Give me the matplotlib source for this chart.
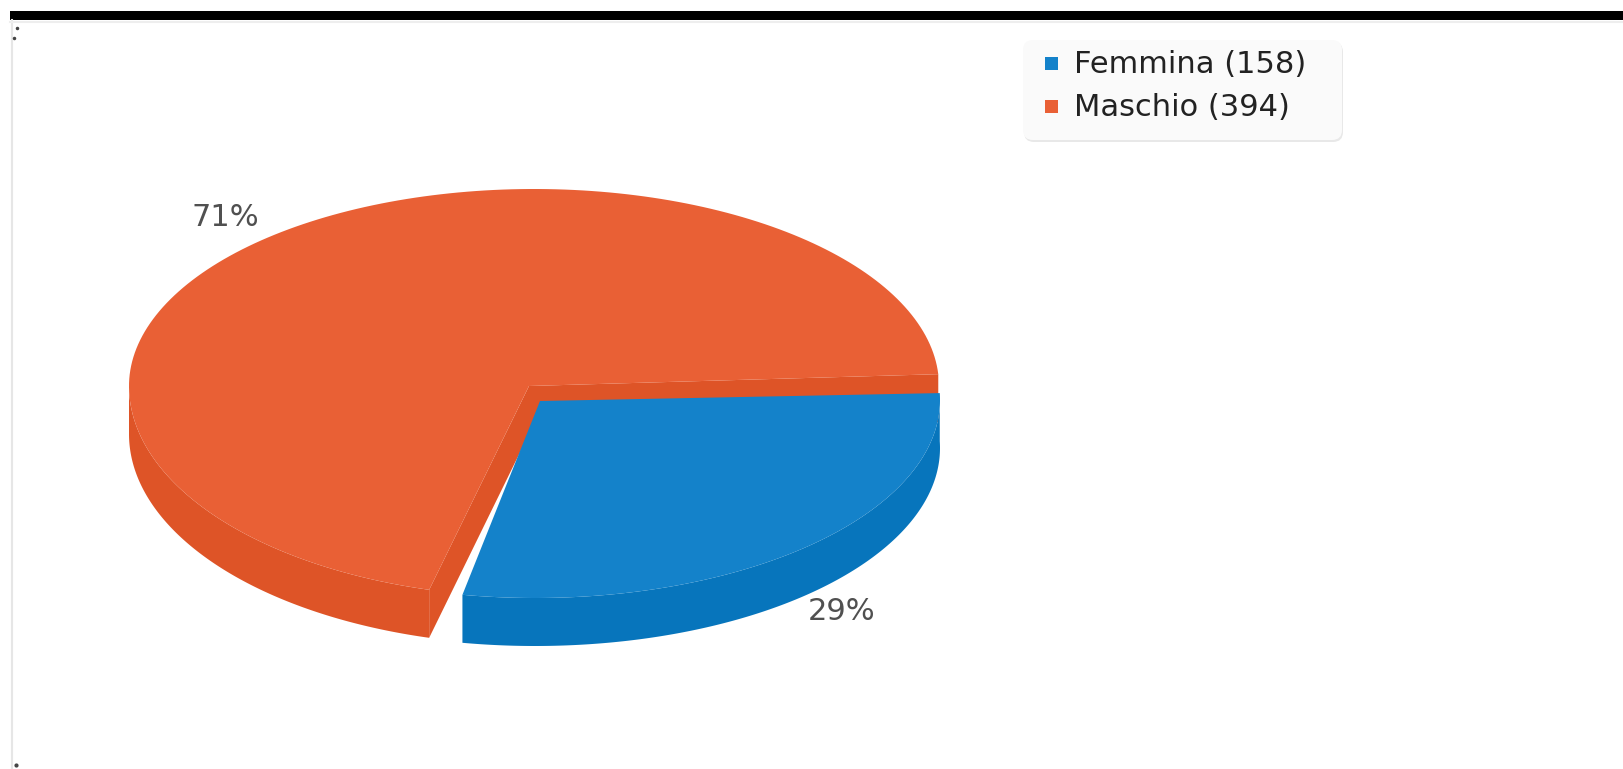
import matplotlib
matplotlib.use('Agg')
import matplotlib.pyplot as plt
import numpy as np
from matplotlib.patches import FancyBboxPatch, Rectangle

plt.rcParams['font.family'] = ['DejaVu Sans']

categories = ['Femmina', 'Maschio']
values = [158, 394]
top_colors = ['#1482CA', '#E96035']
side_colors = ['#0775BC', '#DE5427']

total = sum(values)
spans = [360.0 * v / total for v in values]

fig = plt.figure(figsize=(16.23, 7.69), dpi=100)
ax = fig.add_axes([0, 0, 1, 1])
ax.set_xlim(0, 1623)
ax.set_ylim(769, 0)  # pixels, y going down
ax.axis('off')


def arc(cx, cy, rx, ry_top, ry_bot, t0, t1, dy=0):
    t = np.radians(np.linspace(t0, t1, 200))
    s = np.sin(t)
    y = cy + dy + np.where(s < 0, ry_top, ry_bot) * s
    return cx + rx * np.cos(t), y


# the frame around the chart
ax.add_patch(Rectangle((10, 11), 1613, 9, color='black', lw=0, zorder=1))
ax.plot([11.5, 11.5], [20, 769], color='#e6e6e6', lw=1.5, zorder=1)
ax.plot([10, 1623], [21.5, 21.5], color='#eeeeee', lw=1.5, zorder=1)
ax.plot([17, 14], [28, 38], ls='none', marker='o', ms=1.5, color='#444444', zorder=1)
ax.plot([16], [765], ls='none', marker='o', ms=2, color='#444444', zorder=1)

depth = 48

# orange slice: the perspective squeezes its angle a little (0.979)
o_start = 105.0
o_end = o_start + spans[1] * 0.979
ox, oy = 529, 386
o = (534, 386, 405, 197, 211)
# walls of the cut
ex, ey = arc(*o, o_start, o_start)
ax.fill([ox, ex[0], ex[0], ox], [oy, ey[0], ey[0] + depth, oy + depth], color=side_colors[1], lw=0, zorder=2)
ex, ey = arc(*o, o_end, o_end)
ax.fill([ox, ex[0], ex[0], ox], [oy, ey[0], ey[0] + depth, oy + depth], color=side_colors[1], lw=0, zorder=2)
# outer side
x1, y1 = arc(*o, o_start, 180)
x2, y2 = arc(*o, 180, o_start, dy=depth)
ax.fill(np.r_[x1, x2], np.r_[y1, y2], color=side_colors[1], lw=0, zorder=2)
# top
x1, y1 = arc(*o, o_start, o_end)
ax.fill(np.r_[ox, x1], np.r_[oy, y1], color=top_colors[1], lw=0, zorder=3)

# blue slice, pulled out of the pie
b_start = -2.0
b_end = b_start + spans[0] * 0.993
bx, by = 540, 401
b = (535, 400, 405, 198, 198)
x1, y1 = arc(*b, b_start, b_end)
x2, y2 = arc(*b, b_end, b_start, dy=depth)
ax.fill(np.r_[x1, x2], np.r_[y1, y2], color=side_colors[0], lw=0, zorder=4)
ax.fill(np.r_[bx, x1], np.r_[by, y1], color=top_colors[0], lw=0, zorder=5)

# percent labels
label_pos = [(842, 612), (225, 218)]
for v, (lx, ly) in zip(values, label_pos):
    ax.text(lx, ly, '%d%%' % round(100 * v / total), ha='center', va='center',
            fontsize=22, color='#505050', zorder=6)

# legend
ax.add_patch(FancyBboxPatch((1032, 50), 303, 84, boxstyle='round,pad=8,rounding_size=10',
                            fc='#e8e8e8', ec='none', zorder=6))
ax.add_patch(FancyBboxPatch((1031, 48), 303, 84, boxstyle='round,pad=8,rounding_size=10',
                            fc='#fafafa', ec='none', zorder=7))
for i, (c, v) in enumerate(zip(categories, values)):
    yy = 63 + i * 43
    ax.add_patch(Rectangle((1045, yy - 6.5), 13, 13, color=top_colors[i], lw=0, zorder=8))
    ax.text(1074, yy + 10, '%s (%d)' % (c, v), ha='left', va='baseline', fontsize=22,
            color='#222222', zorder=8)

plt.savefig('out.png', dpi=100)
